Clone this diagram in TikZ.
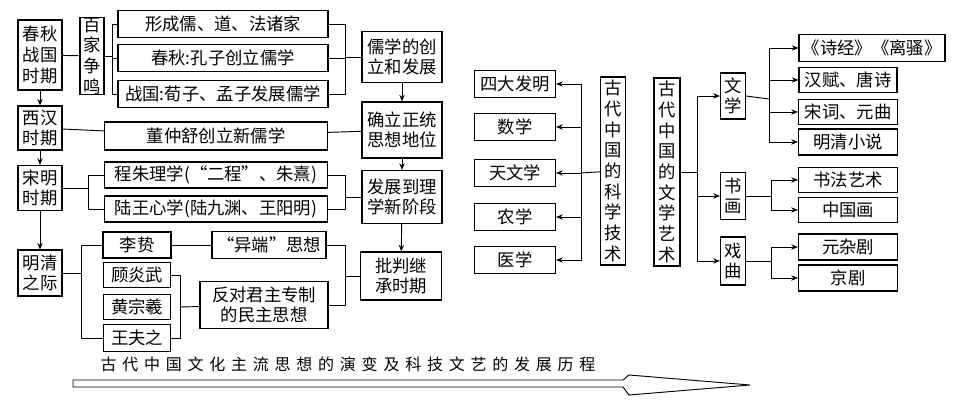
\documentclass[tikz,border=0pt]{standalone}
\usepackage{fontspec}
\setmainfont{Noto Sans CJK SC}
\usetikzlibrary{arrows.meta, positioning, calc}

\begin{document}
\begin{tikzpicture}[
        x=0.75pt, y=-0.75pt,
        font=\fontsize{13}{15}\selectfont,
        box/.style={rectangle, draw, line width=0.8pt, inner sep=0pt, align=center},
        col/.style={box, font=\fontsize{13}{15.5}\selectfont},
        link/.style={line width=0.7pt},
        arrow/.style={line width=0.7pt, -{Stealth[length=5pt, width=4pt]}}
    ]
        \useasboundingbox (0,0) rectangle (968,406);

        % 左侧:主流思想
        \node[col, minimum width=44*0.75pt, minimum height=70*0.75pt] (cq) at (40,55) {春秋\\战国\\时期};
        \node[col, minimum width=24*0.75pt, minimum height=72*0.75pt] (bj) at (92,56) {百\\家\\争\\鸣};
        \node[box, minimum width=210*0.75pt, minimum height=27*0.75pt] (xc) at (223,24) {形成儒、道、法诸家};
        \node[box, minimum width=210*0.75pt, minimum height=27*0.75pt] (kz) at (223,58) {春秋:孔子创立儒学};
        \node[box, minimum width=210*0.75pt, minimum height=27*0.75pt] (xm) at (223,94) {战国:荀子、孟子发展儒学};
        \node[col, minimum width=80*0.75pt, minimum height=51*0.75pt] (rx) at (402,57) {儒学的创\\立和发展};

        \node[col, minimum width=44*0.75pt, minimum height=44*0.75pt] (xh) at (40,128) {西汉\\时期};
        \node[box, minimum width=223*0.75pt, minimum height=28*0.75pt] (dzs) at (216,136) {董仲舒创立新儒学};
        \node[col, minimum width=80*0.75pt, minimum height=56*0.75pt] (zt) at (402,130) {确立正统\\思想地位};

        \node[col, minimum width=44*0.75pt, minimum height=45*0.75pt] (sm) at (40,188) {宋明\\时期};
        \node[box, minimum width=223*0.75pt, minimum height=26*0.75pt] (cz) at (216,175) {程朱理学(“二程”、朱熹)};
        \node[box, minimum width=223*0.75pt, minimum height=26*0.75pt] (lw) at (216,209) {陆王心学(陆九渊、王阳明)};
        \node[col, minimum width=80*0.75pt, minimum height=53*0.75pt] (lx) at (402,197) {发展到理\\学新阶段};

        \node[col, minimum width=44*0.75pt, minimum height=46*0.75pt] (mq) at (40,273) {明清\\之际};
        \node[box, minimum width=68*0.75pt, minimum height=26*0.75pt] (lz) at (137,245) {李贽};
        \node[box, minimum width=67*0.75pt, minimum height=25*0.75pt] (gyw) at (137,275) {顾炎武};
        \node[box, minimum width=67*0.75pt, minimum height=25*0.75pt] (hzx) at (137,307) {黄宗羲};
        \node[box, minimum width=67*0.75pt, minimum height=27*0.75pt] (wfz) at (137,338) {王夫之};
        \node[box, minimum width=114*0.75pt, minimum height=27*0.75pt] (yd) at (269,245) {“异端”思想};
        \node[col, minimum width=128*0.75pt, minimum height=47*0.75pt] (fd) at (264,305) {反对君主专制\\的民主思想};
        \node[col, minimum width=81*0.75pt, minimum height=48*0.75pt] (pp) at (401,276) {批判继\\承时期};

        \coordinate (j1) at (112,56);
        \coordinate (j2) at (345,57);
        \coordinate (j3) at (88,188);
        \coordinate (j4) at (345,197);
        \coordinate (j5) at (81,273);
        \coordinate (j6) at (180,307);
        \coordinate (j7) at (345,276);

        \draw[link] (cq) -- (bj);
        \draw[link] (bj.east) -- (j1);
        \foreach \n in {xc, kz, xm} {
            \draw[link] (j1) |- (\n.west);
            \draw[link] (\n.east) -| (j2);
        }
        \draw[link] (j2) -- (rx);
        \draw[link] (xh) -- (dzs);
        \draw[link] (dzs) -- (zt);
        \draw[link] (sm.east) -- (j3);
        \foreach \n in {cz, lw} {
            \draw[link] (j3) |- (\n.west);
            \draw[link] (\n.east) -| (j4);
        }
        \draw[link] (j4) -- (lx);
        \draw[link] (mq.east) -- (j5);
        \draw[link] (j5) |- (lz.west);
        \draw[link] (j5) |- (wfz.west);
        \draw[link] (lz) -- (yd);
        \draw[link] (gyw.east) -| (j6);
        \draw[link] (wfz.east) -| (j6);
        \draw[link] (j6) -- (fd);
        \draw[link] (yd.east) -| (j7);
        \draw[link] (fd.east) -| (j7);
        \draw[link] (j7) -- (pp);

        \draw[arrow] (cq) -- (xh);
        \draw[arrow] (xh) -- (sm);
        \draw[arrow] (sm) -- (mq);
        \draw[arrow] (rx) -- (zt);
        \draw[arrow] (zt) -- (lx);
        \draw[arrow] (lx) -- (pp);

        % 历程箭头
        \node[font=\fontsize{12}{14}\selectfont\addfontfeature{LetterSpace=36}] (title) at (348,364) {古代中国文化主流思想的演变及科技文艺的发展历程};
        \draw[line width=0.7pt] (73,380) -- (623,380) -- (629,375) -- (750,385) -- (629,395) -- (623,387) -- (73,387) -- cycle;

        % 科学技术
        \node[col, minimum width=25*0.75pt, minimum height=188*0.75pt] (kx) at (613,171) {古\\代\\中\\国\\的\\科\\学\\技\\术};
        \node[box, minimum width=81*0.75pt, minimum height=27*0.75pt] (sd) at (515,84) {四大发明};
        \node[box, minimum width=81*0.75pt, minimum height=27*0.75pt] (sx) at (515,127) {数学};
        \node[box, minimum width=81*0.75pt, minimum height=27*0.75pt] (tw) at (515,173) {天文学};
        \node[box, minimum width=81*0.75pt, minimum height=27*0.75pt] (nx) at (515,217) {农学};
        \node[box, minimum width=81*0.75pt, minimum height=27*0.75pt] (yx) at (515,260) {医学};
        \coordinate (k1) at (581,173);
        \draw[link] (kx) -- (k1);
        \foreach \n in {sd, sx, tw, nx, yx}
            \draw[arrow] (k1) |- (\n.east);

        % 文学艺术
        \node[col, minimum width=26*0.75pt, minimum height=188*0.75pt] (wy) at (667,172) {古\\代\\中\\国\\的\\文\\学\\艺\\术};
        \node[col, minimum width=25*0.75pt, minimum height=46*0.75pt] (wx) at (733,96) {文\\学};
        \node[col, minimum width=25*0.75pt, minimum height=47*0.75pt] (sh) at (733,196) {书\\画};
        \node[col, minimum width=25*0.75pt, minimum height=48*0.75pt] (xq) at (733,261) {戏\\曲};
        \coordinate (w1) at (697,172);
        \draw[link] (wy.east) -- (w1);
        \foreach \n in {wx, sh, xq}
            \draw[arrow] (w1) |- (\n.west);

        \node[box, minimum width=146*0.75pt, minimum height=27*0.75pt] (sj) at (872,48) {《诗经》《离骚》};
        \node[box, minimum width=98*0.75pt, minimum height=25*0.75pt] (hf) at (848,80) {汉赋、唐诗};
        \node[box, minimum width=99*0.75pt, minimum height=25*0.75pt] (sc) at (848,112) {宋词、元曲};
        \node[box, minimum width=99*0.75pt, minimum height=26*0.75pt] (mx) at (848,142) {明清小说};
        \node[box, minimum width=99*0.75pt, minimum height=25*0.75pt] (sf) at (848,180) {书法艺术};
        \node[box, minimum width=99*0.75pt, minimum height=25*0.75pt] (zg) at (848,210) {中国画};
        \node[box, minimum width=99*0.75pt, minimum height=26*0.75pt] (yz) at (848,247) {元杂剧};
        \node[box, minimum width=99*0.75pt, minimum height=26*0.75pt] (jj) at (848,278) {京剧};
        \coordinate (w2) at (769,99);
        \coordinate (w3) at (771,196);
        \coordinate (w4) at (771,261);
        \draw[link] (wx.east) -- (w2);
        \foreach \n in {sj, hf, sc, mx}
            \draw[arrow] (w2) |- (\n.west);
        \draw[link] (sh.east) -- (w3);
        \foreach \n in {sf, zg}
            \draw[arrow] (w3) |- (\n.west);
        \draw[link] (xq.east) -- (w4);
        \foreach \n in {yz, jj}
            \draw[arrow] (w4) |- (\n.west);
    \end{tikzpicture}
\end{document}
